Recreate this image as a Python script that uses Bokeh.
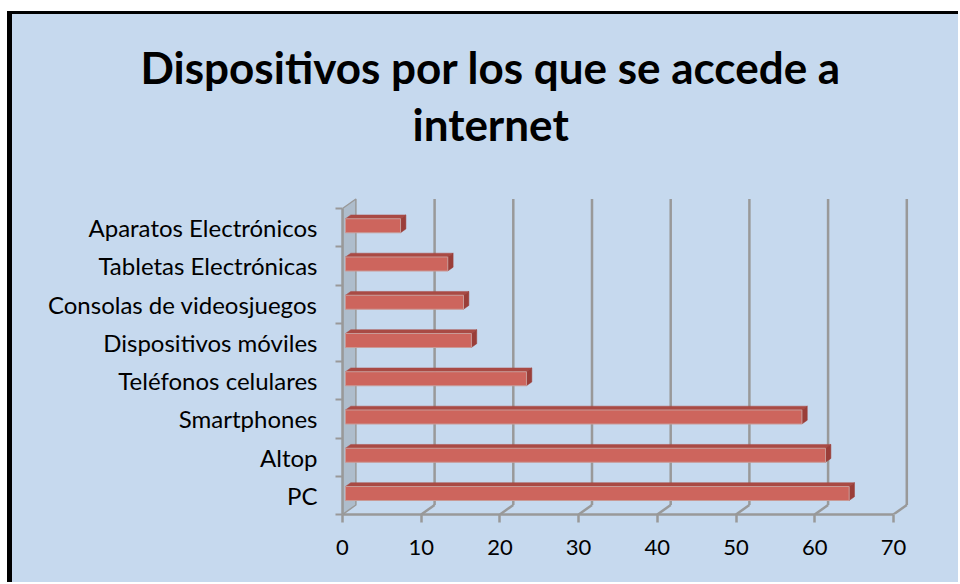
from bokeh.plotting import figure
from bokeh.layouts import column
from bokeh.models import Range1d, FixedTicker, Title
from bokeh.embed import file_html
from bokeh.resources import INLINE

# ---- data ----
categories = ["PC", "Altop", "Smartphones", "Teléfonos celulares", "Dispositivos móviles",
              "Consolas de videosjuegos", "Tabletas Electrónicas", "Aparatos Electrónicos"]
values = [64, 61, 58, 23, 16, 15, 13, 7]
x_ticks = [0, 10, 20, 30, 40, 50, 60, 70]
title_lines = ["Dispositivos por los que se accede a", "internet"]

# ---- styling / geometry ----
BG = "#C6D9EE"
GRID = "#999999"
FONT = "Lato"
W, H = 946, 568
ML, MR, MT, MB = 330, 48, 137, 68
PX_PER_X = 7.87
PX_PER_SLOT = 38.25
xmax = (W - ML - MR) / PX_PER_X
ymax = (H - MT - MB) / PX_PER_SLOT
DX = 13.4 / PX_PER_X      # depth offset (data units)
DY = 9.5 / PX_PER_SLOT
F0, FB = 0.22, 0.4        # bar front depth / bar depth fraction
n = len(categories)

p = figure(width=W, height=H, output_backend="svg", toolbar_location=None, title=None,
           x_range=Range1d(0, xmax), y_range=Range1d(0, ymax),
           min_border_left=ML, min_border_right=MR, min_border_top=MT, min_border_bottom=MB)
p.background_fill_alpha = 0
p.border_fill_alpha = 0
p.outline_line_color = None
p.grid.visible = False

# left wall
p.patch([0, DX, DX, 0], [0, DY, n + DY, n], fill_color="#AEBDCC", line_color=GRID, line_width=1.5)

# back-wall gridlines + floor diagonals
gx = [t for t in x_ticks if t > 0]
p.segment(x0=[t + DX for t in gx], y0=[DY] * len(gx), x1=[t + DX for t in gx], y1=[n + DY] * len(gx),
          line_color=GRID, line_width=2.5)
p.segment(x0=gx, y0=[0] * len(gx), x1=[t + DX for t in gx], y1=[DY] * len(gx),
          line_color=GRID, line_width=2.5)

# bars (3D)
bx0 = F0 * DX
bdx, bdy = FB * DX, FB * DY
yb = [i + 0.366 for i in range(n)]
yt = [i + 0.732 for i in range(n)]
xr = [bx0 + v for v in values]
top_xs = [[bx0, r, r + bdx, bx0 + bdx] for r in xr]
top_ys = [[t, t, t + bdy, t + bdy] for t in yt]
side_xs = [[r, r + bdx, r + bdx, r] for r in xr]
side_ys = [[b, b + bdy, t + bdy, t] for b, t in zip(yb, yt)]
p.patches(top_xs, top_ys, fill_color="#A94A44", line_color="#A94A44", line_width=0.5)
p.patches(side_xs, side_ys, fill_color="#9A3E39", line_color="#9A3E39", line_width=0.5)
p.hbar(y=[(b + t) / 2 for b, t in zip(yb, yt)], left=bx0, right=xr, height=0.366,
       fill_color="#CD655D", line_color="#C99A96", line_width=1)

# axes
xa = p.xaxis[0]
xa.ticker = FixedTicker(ticks=x_ticks)
xa.bounds = (0, x_ticks[-1])
xa.axis_line_color = GRID
xa.axis_line_width = 2.5
xa.major_tick_line_color = GRID
xa.major_tick_line_width = 2.5
xa.major_tick_out = 8
xa.major_tick_in = 0
xa.minor_tick_line_color = None
xa.major_label_text_font = FONT
xa.major_label_text_font_size = "22px"
xa.major_label_text_color = "black"
xa.major_label_standoff = 17

ya = p.yaxis[0]
centers = [i + 0.5 for i in range(n)]
ya.ticker = FixedTicker(ticks=centers, minor_ticks=list(range(n + 1)))
ya.major_label_overrides = {c: lab for c, lab in zip(centers, categories)}
ya.bounds = (0, n)
ya.axis_line_color = GRID
ya.axis_line_width = 2.5
ya.major_tick_line_color = None
ya.major_tick_out = 0
ya.major_tick_in = 0
ya.minor_tick_line_color = GRID
ya.minor_tick_line_width = 2
ya.minor_tick_out = 7
ya.minor_tick_in = 0
ya.major_label_text_font = FONT
ya.major_label_text_font_size = "24px"
ya.major_label_text_color = "black"
ya.major_label_standoff = 18

# two-line title (closest-to-frame line added first)
p.add_layout(Title(text=title_lines[1], align="left", offset=70, standoff=3,
                   text_font=FONT, text_font_style="bold", text_font_size="44px", text_color="black"), "above")
p.add_layout(Title(text=title_lines[0], align="left", offset=-202, standoff=3,
                   text_font=FONT, text_font_style="bold", text_font_size="44px", text_color="black"), "above")

root = column(p, styles={"margin-left": "7px", "margin-top": "11px", "background-color": BG,
                         "border-left": "5px solid black", "border-top": "3px solid black"})

open("out.html", "w").write(file_html(root, INLINE))
